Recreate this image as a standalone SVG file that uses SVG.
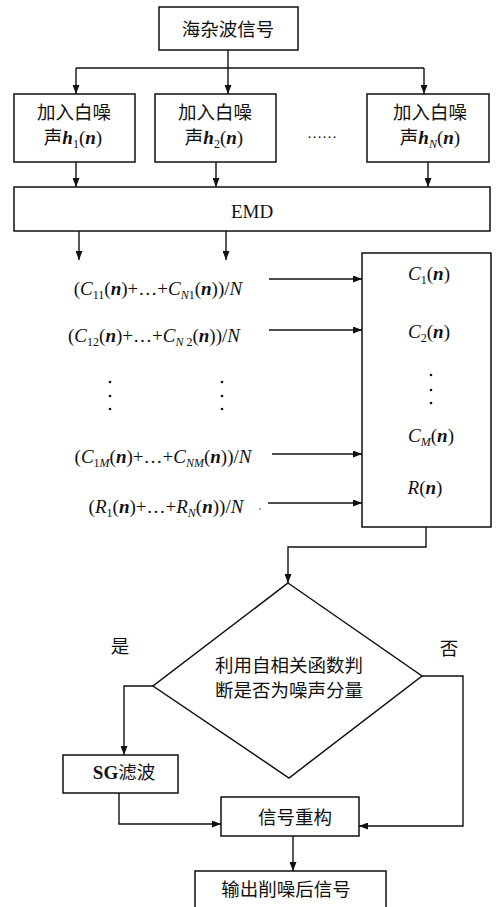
<svg xmlns="http://www.w3.org/2000/svg" width="501" height="907" viewBox="0 0 501 907">
<defs>
<marker id="ah" markerUnits="userSpaceOnUse" markerWidth="9" markerHeight="7" refX="9" refY="3.5" orient="auto">
<path d="M0,0 L9,3.5 L0,7 z" fill="#111"/>
</marker>
<style>
.box{fill:#fff;stroke:#111;stroke-width:1.5}
.cn{font-family:"Noto Sans CJK SC","Noto Sans CJK JP",sans-serif;font-size:18.5px;fill:#111;text-anchor:middle}
.m{font-family:"Liberation Serif","Times New Roman",serif;font-size:19px;fill:#111;text-anchor:middle}
.i{font-style:italic}
.bi{font-style:italic;font-weight:bold}
.s{font-size:12px}
.c line,.c path{stroke:#111;stroke-width:1.4;fill:none}
.dot{fill:#111}
</style>
</defs>
<g id="n_src"><rect class="box" x="159" y="7" width="139" height="43"/><text class="cn" x="228" y="36">海杂波信号</text></g>
<g id="n_h1"><rect class="box" x="14" y="94" width="121" height="68"/><text class="cn" x="74" y="119">加入白噪</text><text class="cn" x="73" y="144">声<tspan class="m bi">h</tspan><tspan class="m s" dy="4">1</tspan><tspan class="m" dy="-4">(</tspan><tspan class="m bi">n</tspan><tspan class="m">)</tspan></text></g>
<g id="n_h2"><rect class="box" x="155" y="94" width="121" height="68"/><text class="cn" x="215" y="119">加入白噪</text><text class="cn" x="214" y="144">声<tspan class="m bi">h</tspan><tspan class="m s" dy="4">2</tspan><tspan class="m" dy="-4">(</tspan><tspan class="m bi">n</tspan><tspan class="m">)</tspan></text></g>
<g id="n_dots"><text class="m" x="322" y="138" style="font-size:15px">……</text></g>
<g id="n_hN"><rect class="box" x="367" y="94" width="122" height="68"/><text class="cn" x="430" y="119">加入白噪</text><text class="cn" x="430" y="144">声<tspan class="m bi">h</tspan><tspan class="m s i" dy="4">N</tspan><tspan class="m" dy="-4">(</tspan><tspan class="m bi">n</tspan><tspan class="m">)</tspan></text></g>
<g id="n_emd"><rect class="box" x="14" y="187" width="476" height="44"/><text class="m" x="252" y="218">EMD</text></g>
<g id="n_l1"><text class="m" x="158" y="295">(<tspan class="i">C</tspan><tspan class="s" dy="4">11</tspan><tspan dy="-4">(</tspan><tspan class="bi">n</tspan>)+…+<tspan class="i">C</tspan><tspan class="s i" dy="4">N</tspan><tspan class="s" >1</tspan><tspan dy="-4">(</tspan><tspan class="bi">n</tspan>))/<tspan class="i">N</tspan></text></g>
<g id="n_l2"><text class="m" x="154" y="342">(<tspan class="i">C</tspan><tspan class="s" dy="4">12</tspan><tspan dy="-4">(</tspan><tspan class="bi">n</tspan>)+…+<tspan class="i">C</tspan><tspan class="s i" dy="4">N</tspan><tspan class="s"> 2</tspan><tspan dy="-4">(</tspan><tspan class="bi">n</tspan>))/<tspan class="i">N</tspan></text></g>
<g id="n_vdots">
<circle class="dot" cx="110" cy="382" r="1.3"/><circle class="dot" cx="110" cy="396" r="1.3"/><circle class="dot" cx="110" cy="409" r="1.3"/>
<circle class="dot" cx="222" cy="382" r="1.3"/><circle class="dot" cx="222" cy="396" r="1.3"/><circle class="dot" cx="222" cy="409" r="1.3"/>
</g>
<g id="n_l3"><text class="m" x="163" y="463">(<tspan class="i">C</tspan><tspan class="s" dy="4">1</tspan><tspan class="s i">M</tspan><tspan dy="-4">(</tspan><tspan class="bi">n</tspan>)+…+<tspan class="i">C</tspan><tspan class="s i" dy="4">NM</tspan><tspan dy="-4">(</tspan><tspan class="bi">n</tspan>))/<tspan class="i">N</tspan></text></g>
<g id="n_l4"><text class="m" x="166" y="513">(<tspan class="i">R</tspan><tspan class="s" dy="4">1</tspan><tspan dy="-4">(</tspan><tspan class="bi">n</tspan>)+…+<tspan class="i">R</tspan><tspan class="s i" dy="4">N</tspan><tspan dy="-4">(</tspan><tspan class="bi">n</tspan>))/<tspan class="i">N</tspan></text><circle class="dot" cx="260" cy="509" r="0.7"/></g>
<g id="n_imf"><rect class="box" x="362" y="253" width="129" height="274"/>
<text class="m" x="429" y="280"><tspan class="i">C</tspan><tspan class="s" dy="4">1</tspan><tspan dy="-4">(</tspan><tspan class="bi">n</tspan>)</text>
<text class="m" x="429" y="338"><tspan class="i">C</tspan><tspan class="s" dy="4">2</tspan><tspan dy="-4">(</tspan><tspan class="bi">n</tspan>)</text>
<circle class="dot" cx="431" cy="375" r="1.3"/><circle class="dot" cx="431" cy="390" r="1.3"/><circle class="dot" cx="431" cy="403" r="1.3"/>
<text class="m" x="431" y="442"><tspan class="i">C</tspan><tspan class="s i" dy="4">M</tspan><tspan dy="-4">(</tspan><tspan class="bi">n</tspan>)</text>
<text class="m" x="425" y="494"><tspan class="i">R</tspan>(<tspan class="bi">n</tspan>)</text>
</g>
<g id="n_dec"><path class="box" d="M288,583 L422,676 L289,778 L153,686 Z"/><text class="cn" x="289" y="672">利用自相关函数判</text><text class="cn" x="289" y="697">断是否为噪声分量</text></g>
<g id="n_yes"><text class="cn" x="120" y="653">是</text></g>
<g id="n_no"><text class="cn" x="449" y="655">否</text></g>
<g id="n_sg"><rect class="box" x="63" y="755" width="115" height="38"/><text class="cn" x="124" y="779"><tspan class="m" style="font-weight:bold">SG</tspan>滤波</text></g>
<g id="n_rec"><rect class="box" x="221" y="797" width="138" height="39"/><text class="cn" x="295" y="824">信号重构</text></g>
<g id="n_out"><rect class="box" x="195" y="871" width="191" height="50"/><text class="cn" x="286" y="896">输出削噪后信号</text></g>
<g id="connectors" class="c">
<path d="M228,50 V68"/><path d="M76,68 H424"/>
<path d="M76,68 V94" marker-end="url(#ah)"/><path d="M228,68 V94" marker-end="url(#ah)"/><path d="M424,68 V94" marker-end="url(#ah)"/>
<path d="M76,162 V187" marker-end="url(#ah)"/><path d="M216,162 V187" marker-end="url(#ah)"/><path d="M428,162 V187" marker-end="url(#ah)"/>
<path d="M79,231 V260" marker-end="url(#ah)"/><path d="M226,231 V260" marker-end="url(#ah)"/>
<path d="M269,279 H362" marker-end="url(#ah)"/><path d="M269,330 H362" marker-end="url(#ah)"/>
<path d="M272,454 H362" marker-end="url(#ah)"/><path d="M268,503 H362" marker-end="url(#ah)"/>
<path d="M426,527 V547 H288 V583" marker-end="url(#ah)"/>
<path d="M153,686 H124 V755" marker-end="url(#ah)"/>
<path d="M119,793 V824 H221" marker-end="url(#ah)"/>
<path d="M422,676 H463 V826 H359" marker-end="url(#ah)"/>
<path d="M293,836 V871" marker-end="url(#ah)"/>
</g>
</svg>
